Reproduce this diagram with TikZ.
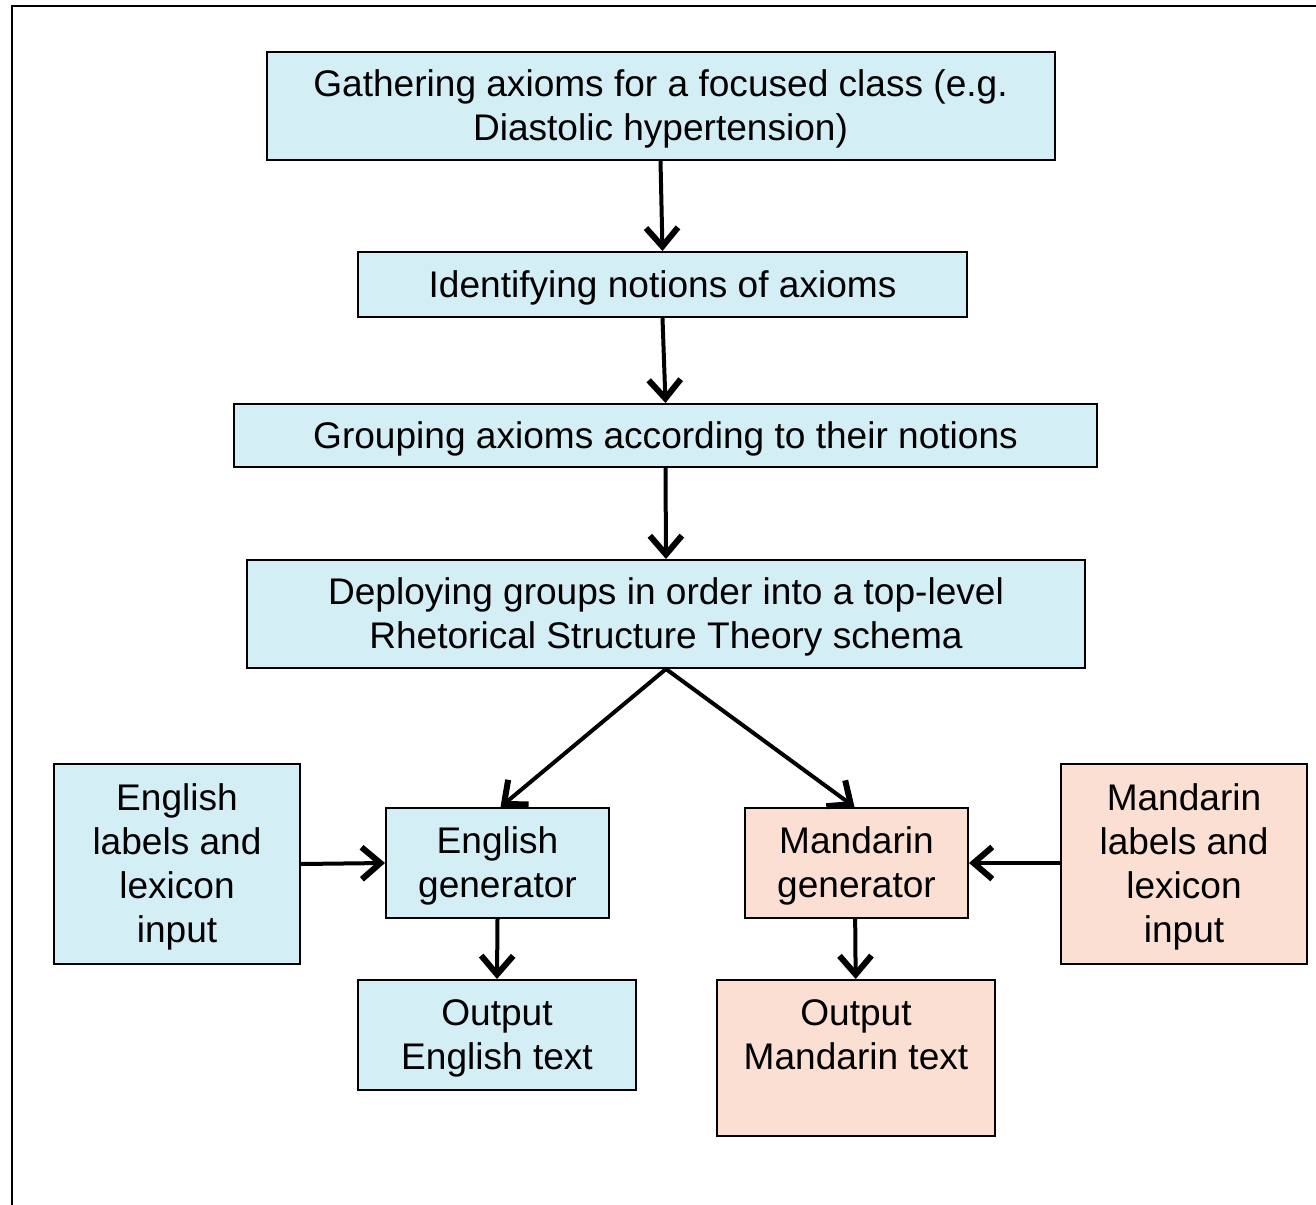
\documentclass[tikz,border=0pt]{standalone}
\usepackage{fontspec}
\setmainfont{Liberation Sans}
\usetikzlibrary{arrows.meta}
\definecolor{boxblue}{HTML}{D4EEF5}
\definecolor{boxpeach}{HTML}{FBDFD3}
\newcommand{\topstrut}{\rule{0pt}{25pt}}
\tikzset{
  x=0.75pt, y=-0.75pt,
  proc/.style={draw=black, line width=1.5pt, rectangle, inner sep=0pt, align=center,
    font=\fontsize{27.8pt}{33pt}\selectfont},
  blue/.style={proc, fill=boxblue},
  peach/.style={proc, fill=boxpeach},
  txt/.style={inner sep=0pt, align=center, font=\fontsize{27.8pt}{33pt}\selectfont},
  flow/.style={line width=3pt, -{Straight Barb[length=14pt,width=24pt,line width'=4.5pt]}},
}
\begin{document}
\begin{tikzpicture}
\useasboundingbox (0,0) rectangle (1316,1205);
\draw[line width=1.8pt] (12,1215) -- (12,6) -- (1330,6);

\node[blue, minimum width=591pt, minimum height=81pt] (g) at (660.5,106) {\topstrut Gathering axioms for a focused class (e.g.\\Diastolic hypertension)};
\node[blue, minimum width=456.75pt, minimum height=48.75pt] (i) at (662.5,284.5) {\topstrut Identifying notions of axioms};
\node[blue, minimum width=647.25pt, minimum height=47.25pt] (gr) at (665.5,435.5) {\topstrut Grouping axioms according to their notions};
\node[blue, minimum width=628.5pt, minimum height=81pt] (d) at (666,614) {\topstrut Deploying groups in order into a top-level\\Rhetorical Structure Theory schema};

\node[blue, minimum width=184.5pt, minimum height=150pt] (ei) at (177,864) {\topstrut English\\labels and\\lexicon\\input};
\node[blue, minimum width=167.25pt, minimum height=82.5pt] (eg) at (497.5,863) {\topstrut English\\generator};
\node[peach, minimum width=167.25pt, minimum height=82.5pt] (mg) at (856.5,863) {\topstrut Mandarin\\generator};
\node[peach, minimum width=184.5pt, minimum height=150pt] (mi) at (1184,864) {\topstrut Mandarin\\labels and\\lexicon\\input};

\node[blue, minimum width=208.5pt, minimum height=82.5pt] (eo) at (497,1035) {\topstrut Output\\English text};
\node[peach, minimum width=208.5pt, minimum height=117pt] (mo) at (856,1058) {};
\node[txt] (mot) at (856,1035) {Output\\Mandarin text};

\draw[flow] (g.south) -- (i.north);
\draw[flow] (i.south) -- (gr.north);
\draw[flow] (gr.south) -- (d.north);
\draw[flow] (d.south) -- ([xshift=2.25pt]eg.north);
\draw[flow] (d.south) -- ([xshift=-1.5pt]mg.north);
\draw[flow] (ei.east) -- (eg.west);
\draw[flow] (mi.west |- mg.east) -- (mg.east);
\draw[flow] (eg.south) -- (eo.north);
\draw[flow] ([xshift=-1pt]mg.south) -- ([xshift=-0.25pt]mo.north);
\end{tikzpicture}
\end{document}
